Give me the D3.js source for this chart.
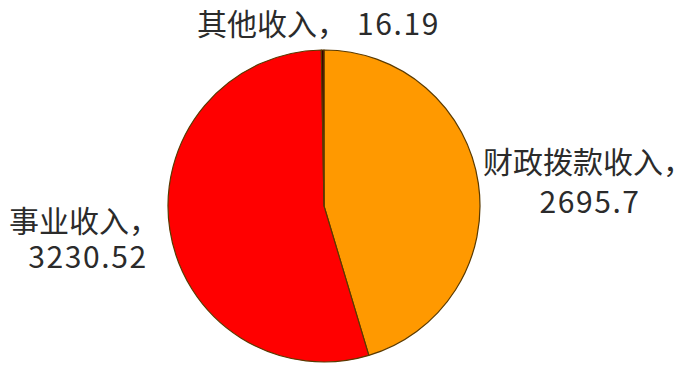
<!DOCTYPE html>
<html>
<head>
<meta charset="utf-8">
<script src="https://cdn.jsdelivr.net/npm/d3@7/dist/d3.min.js"></script>
<style>
  html, body { margin: 0; padding: 0; background: #ffffff; }
  svg { display: block; }
  text { font-family: "Noto Sans CJK SC", "Noto Sans", sans-serif; fill: #2b2b2b; }
</style>
</head>
<body>
<svg id="chart" width="693" height="366"></svg>
<script>
// Revenue breakdown (units as labelled)
const categories = ["财政拨款收入", "事业收入", "其他收入"];
const values = [2695.7, 3230.52, 16.19];
const valueLabels = ["2695.7", "3230.52", "16.19"];
const colors = ["#ff9900", "#ff0000", "#3a0000"];

const W = 693, H = 366;
const cx = 324, cy = 206, radius = 156;

const svg = d3.select("#chart");

const pie = d3.pie().sort(null).value(d => d.value).startAngle(0).endAngle(2 * Math.PI);
const data = categories.map((c, i) => ({ name: c, value: values[i], label: valueLabels[i], color: colors[i] }));
const arcs = pie(data);

const arc = d3.arc().innerRadius(0).outerRadius(radius);

const g = svg.append("g").attr("transform", `translate(${cx},${cy})`);
g.selectAll("path")
  .data(arcs)
  .join("path")
  .attr("d", arc)
  .attr("fill", d => d.data.color)
  .attr("stroke", "#5a3a00")
  .attr("stroke-width", 1.2)
  .attr("stroke-linejoin", "round");

// Labels: name and value, placed around the pie
const fontSize = 30;
const digitSpacing = 1.6;

// 财政拨款收入 — right side, two lines
const rightLabel = svg.append("text").attr("font-size", fontSize).attr("text-anchor", "middle");
rightLabel.append("tspan").attr("x", 588).attr("y", 173).text(categories[0] + "，");
rightLabel.append("tspan").attr("x", 590).attr("y", 213)
  .attr("letter-spacing", digitSpacing).text(valueLabels[0]);

// 事业收入 — left side, two lines
const leftLabel = svg.append("text").attr("font-size", fontSize).attr("text-anchor", "middle");
leftLabel.append("tspan").attr("x", 84).attr("y", 232).text(categories[1] + "，");
leftLabel.append("tspan").attr("x", 88).attr("y", 268)
  .attr("letter-spacing", digitSpacing).text(valueLabels[1]);

// 其他收入 — above the pie, single line
const topLabel = svg.append("text").attr("font-size", fontSize).attr("text-anchor", "start");
topLabel.append("tspan").attr("x", 197).attr("y", 35).text(categories[2] + "，");
topLabel.append("tspan").attr("x", 357).attr("y", 35)
  .attr("letter-spacing", digitSpacing).text(valueLabels[2]);
</script>
</body>
</html>
